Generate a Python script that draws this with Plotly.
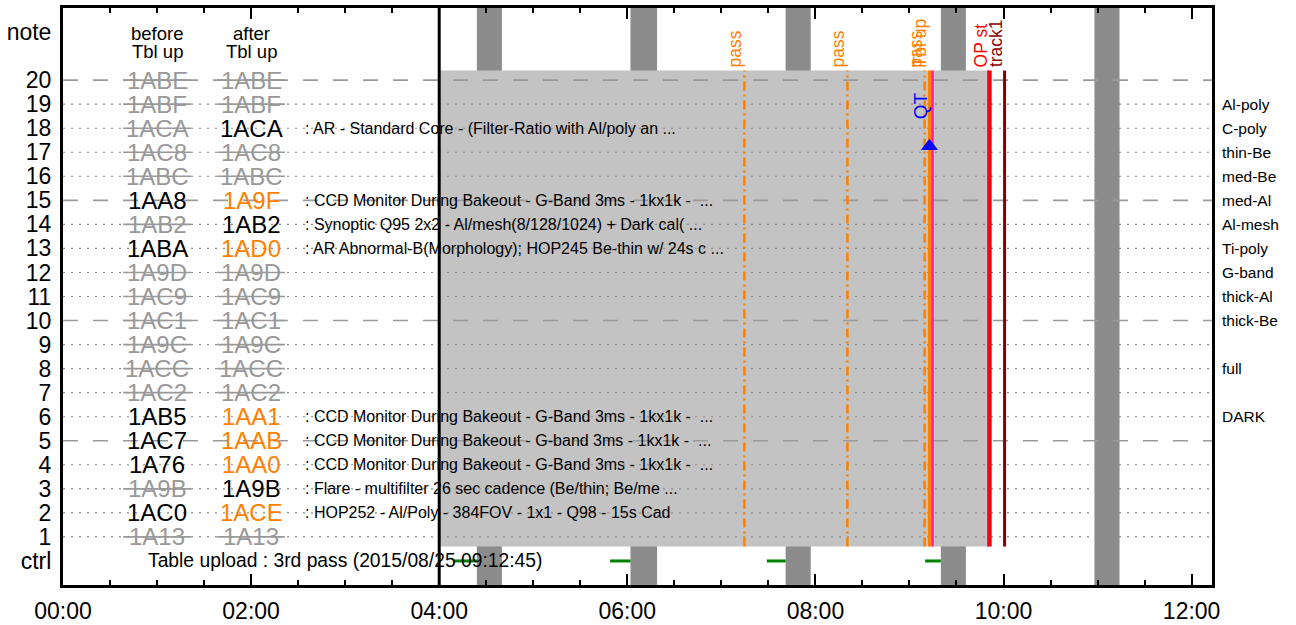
import plotly.graph_objects as go

FONT = "Liberation Sans, Arial, sans-serif"

def hrs(t):
    p = [int(v) for v in t.split(":")]
    while len(p) < 3:
        p.append(0)
    return p[0] + p[1] / 60 + p[2] / 3600

# ---------------- data ----------------
x_max = "12:13:00"
x_tick_hours = [0, 2, 4, 6, 8, 10, 12]
x_tick_text = ["00:00", "02:00", "04:00", "06:00", "08:00", "10:00", "12:00"]

row_nums = [20, 19, 18, 17, 16, 15, 14, 13, 12, 11, 10, 9, 8, 7, 6, 5, 4, 3, 2, 1]
before_id = ["1ABE", "1ABF", "1ACA", "1AC8", "1ABC", "1AA8", "1AB2", "1ABA", "1A9D", "1AC9",
             "1AC1", "1A9C", "1ACC", "1AC2", "1AB5", "1AC7", "1A76", "1A9B", "1AC0", "1A13"]
before_state = ["g", "g", "g", "g", "g", "k", "g", "k", "g", "g",
                "g", "g", "g", "g", "k", "k", "k", "g", "k", "g"]
after_id = ["1ABE", "1ABF", "1ACA", "1AC8", "1ABC", "1A9F", "1AB2", "1AD0", "1A9D", "1AC9",
            "1AC1", "1A9C", "1ACC", "1AC2", "1AA1", "1AAB", "1AA0", "1A9B", "1ACE", "1A13"]
after_state = ["g", "g", "k", "g", "g", "o", "k", "o", "g", "g",
               "g", "g", "g", "g", "o", "o", "o", "k", "o", "g"]
descriptions = [
    "", "",
    ": AR - Standard Core - (Filter-Ratio with Al/poly an ...",
    "", "",
    ": CCD Monitor During Bakeout - G-Band 3ms - 1kx1k -  ...",
    ": Synoptic Q95 2x2 - Al/mesh(8/128/1024) + Dark cal( ...",
    ": AR Abnormal-B(Morphology); HOP245 Be-thin w/ 24s c ...",
    "", "", "", "", "", "",
    ": CCD Monitor During Bakeout - G-Band 3ms - 1kx1k -  ...",
    ": CCD Monitor During Bakeout - G-band 3ms - 1kx1k -  ...",
    ": CCD Monitor During Bakeout - G-Band 3ms - 1kx1k -  ...",
    ": Flare - multifilter 26 sec cadence (Be/thin; Be/me ...",
    ": HOP252 - Al/Poly - 384FOV - 1x1 - Q98 - 15s Cad",
    "",
]
filter_rows = [19, 18, 17, 16, 15, 14, 13, 12, 11, 10, 8, 6]
filter_names = ["Al-poly", "C-poly", "thin-Be", "med-Be", "med-Al", "Al-mesh", "Ti-poly",
                "G-band", "thick-Al", "thick-Be", "full", "DARK"]

before_col = "01:00"
after_col = "02:00"
desc_col = "02:33"
ctrl_text = "Table upload : 3rd pass (2015/08/25 09:12:45)"
ctrl_text_x = "00:53"

timeline_start = "04:00"
timeline_end = "09:50:30"

dark_start = ["04:24", "06:02", "07:41", "09:20", "10:58"]
dark_end = ["04:40", "06:19", "07:57", "09:36", "11:14"]
ctrl_start = ["04:09", "05:49", "07:29", "09:10"]
ctrl_end = ["04:24", "06:02", "07:41", "09:20"]

event_time = ["07:14:42", "08:20:24", "09:09:40", "09:12:45", "09:14:40", "09:50:10", "09:51:20", "10:00:40"]
event_label = ["pass", "pass", "pass", "Tbl up", "", "", "OP st", "track1"]
event_color = ["#ff8000", "#ff8000", "#ff8000", "#ff8000", "#ff1aa0", "#800080", "#ff0000", "#8b0000"]
event_dash = ["dashdot", "dashdot", "dashdot", "solid", "solid", "solid", "solid", "solid"]
event_width = [2.5, 2.5, 2.5, 3, 2.5, 1.5, 3.5, 3]

qt_time = "09:12:45"
qt_label_row = 18.95
qt_marker_row = 17.25

GRAY_TXT = "#999999"
ORANGE = "#ff8000"
state_color = {"g": GRAY_TXT, "k": "#000000", "o": ORANGE}

# ---------------- figure ----------------
fig = go.Figure()
xm = hrs(x_max)
band_lo, band_hi = 0.6, 20.4

# grid lines
dash_x, dash_y, dot_x, dot_y = [], [], [], []
for r in range(1, 21):
    if r % 5 == 0:
        dash_x += [0, xm, None]; dash_y += [r, r, None]
    else:
        dot_x += [0, xm, None]; dot_y += [r, r, None]
fig.add_trace(go.Scatter(x=dash_x, y=dash_y, mode="lines", hoverinfo="skip",
                         line=dict(color="#9a9a9a", width=1.6, dash="15px,15px")))
fig.add_trace(go.Scatter(x=dot_x, y=dot_y, mode="lines", hoverinfo="skip",
                         line=dict(color="#8a8a8a", width=1.1, dash="2px,6px")))

# strike-through for unchanged ids
sx, sy = [], []
for col, states in ((before_col, before_state), (after_col, after_state)):
    c = hrs(col)
    for r, s in zip(row_nums, states):
        if s == "g":
            sx += [c - 0.36, c + 0.36, None]; sy += [r, r, None]
fig.add_trace(go.Scatter(x=sx, y=sy, mode="lines", hoverinfo="skip",
                         line=dict(color=GRAY_TXT, width=1.6)))

# start of timeline
t0 = hrs(timeline_start)
fig.add_trace(go.Scatter(x=[t0, t0], y=[-1, 23], mode="lines", hoverinfo="skip",
                         line=dict(color="black", width=3)))

# event lines
for t, c, d, w in zip(event_time, event_color, event_dash, event_width):
    fig.add_trace(go.Scatter(x=[hrs(t), hrs(t)], y=[band_lo, band_hi], mode="lines",
                             hoverinfo="skip", line=dict(color=c, width=w,
                             dash="9px,4px,2px,4px" if d == "dashdot" else d)))

# ctrl segments
gx, gy = [], []
for a, b in zip(ctrl_start, ctrl_end):
    gx += [hrs(a), hrs(b), None]; gy += [0, 0, None]
fig.add_trace(go.Scatter(x=gx, y=gy, mode="lines", hoverinfo="skip",
                         line=dict(color="#008000", width=3)))

# QT marker
fig.add_trace(go.Scatter(x=[hrs(qt_time)], y=[qt_marker_row], mode="markers", hoverinfo="skip",
                         marker=dict(symbol="triangle-up", size=15, color="#0000ff",
                                     line=dict(width=0))))

# shapes
shapes = []
for a, b in zip(dark_start, dark_end):
    shapes.append(dict(type="rect", xref="x", yref="paper", x0=hrs(a), x1=hrs(b), y0=0, y1=1,
                       fillcolor="#8c8c8c", line=dict(width=0), layer="below"))
shapes.append(dict(type="rect", xref="x", yref="y", x0=t0, x1=hrs(timeline_end),
                   y0=band_lo, y1=band_hi, fillcolor="#c3c3c3", line=dict(width=0), layer="below"))

ann = []
# id columns
for col, ids, states in ((before_col, before_id, before_state), (after_col, after_id, after_state)):
    for r, i, s in zip(row_nums, ids, states):
        ann.append(dict(x=hrs(col), y=r, text=i, showarrow=False, xanchor="center", yanchor="middle",
                        font=dict(family=FONT, size=24, color=state_color[s])))
# headers
for col, top in ((before_col, "before"), (after_col, "after")):
    ann.append(dict(x=hrs(col), y=21.95, text=top, showarrow=False, xanchor="center", yanchor="middle",
                    font=dict(family=FONT, size=18.5, color="black")))
    ann.append(dict(x=hrs(col), y=21.2, text="Tbl up", showarrow=False, xanchor="center", yanchor="middle",
                    font=dict(family=FONT, size=18.5, color="black")))
# descriptions
for r, d in zip(row_nums, descriptions):
    if d:
        ann.append(dict(x=hrs(desc_col), y=r, text=d.replace("  ", " &nbsp;"), showarrow=False,
                        xanchor="left", yanchor="middle",
                        font=dict(family=FONT, size=16, color="black")))
# ctrl text
ann.append(dict(x=hrs(ctrl_text_x), y=0, text=ctrl_text, showarrow=False, xanchor="left", yanchor="middle",
                font=dict(family=FONT, size=19.3, color="black")))
# event labels
for t, lab, c in zip(event_time, event_label, event_color):
    if lab:
        ann.append(dict(x=hrs(t), y=band_hi, text=lab, showarrow=False, textangle=-90,
                        xanchor="right", yanchor="bottom", yshift=1, xshift=3,
                        font=dict(family=FONT, size=17.5, color=c)))
ann.append(dict(x=hrs(qt_time), y=qt_label_row, text="QT", showarrow=False, textangle=-90,
                xanchor="right", yanchor="middle", xshift=3,
                font=dict(family=FONT, size=19, color="#0000ff")))
# filter names
for r, n in zip(filter_rows, filter_names):
    ann.append(dict(x=1, xref="paper", y=r, text=n, showarrow=False, xanchor="left", yanchor="middle",
                    xshift=8, font=dict(family=FONT, size=15.5, color="black")))

y_tick_vals = [0] + list(range(1, 21)) + [22]
y_tick_text = ["ctrl"] + [str(v) for v in range(1, 21)] + ["note"]

fig.update_layout(
    width=1296, height=625,
    margin=dict(l=63, r=84, t=8, b=40, autoexpand=False),
    paper_bgcolor="white", plot_bgcolor="white",
    showlegend=False,
    shapes=shapes, annotations=ann,
    font=dict(family=FONT, color="black"),
    xaxis=dict(range=[0, xm], tickvals=x_tick_hours, ticktext=x_tick_text, automargin=False,
               ticks="inside", ticklen=11, tickwidth=2, tickcolor="black",
               showline=True, linewidth=3, linecolor="black", mirror="ticks",
               showgrid=False, zeroline=False, ticklabelstandoff=3,
               tickfont=dict(family=FONT, size=23, color="black"),
               minor=dict(ticks="inside", ticklen=5, tickwidth=2, tickcolor="black",
                          dtick=0.5, tick0=0, showgrid=False)),
    yaxis=dict(range=[-1, 23], tickvals=y_tick_vals, ticktext=y_tick_text, automargin=False,
               ticks="", showline=True, linewidth=3, linecolor="black", mirror=True,
               showgrid=False, zeroline=False, ticklabelstandoff=4,
               tickfont=dict(family=FONT, size=23, color="black")),
)

fig.write_html("out.html", config={"displayModeBar": False},
               post_script="document.body.style.margin='0px';")
